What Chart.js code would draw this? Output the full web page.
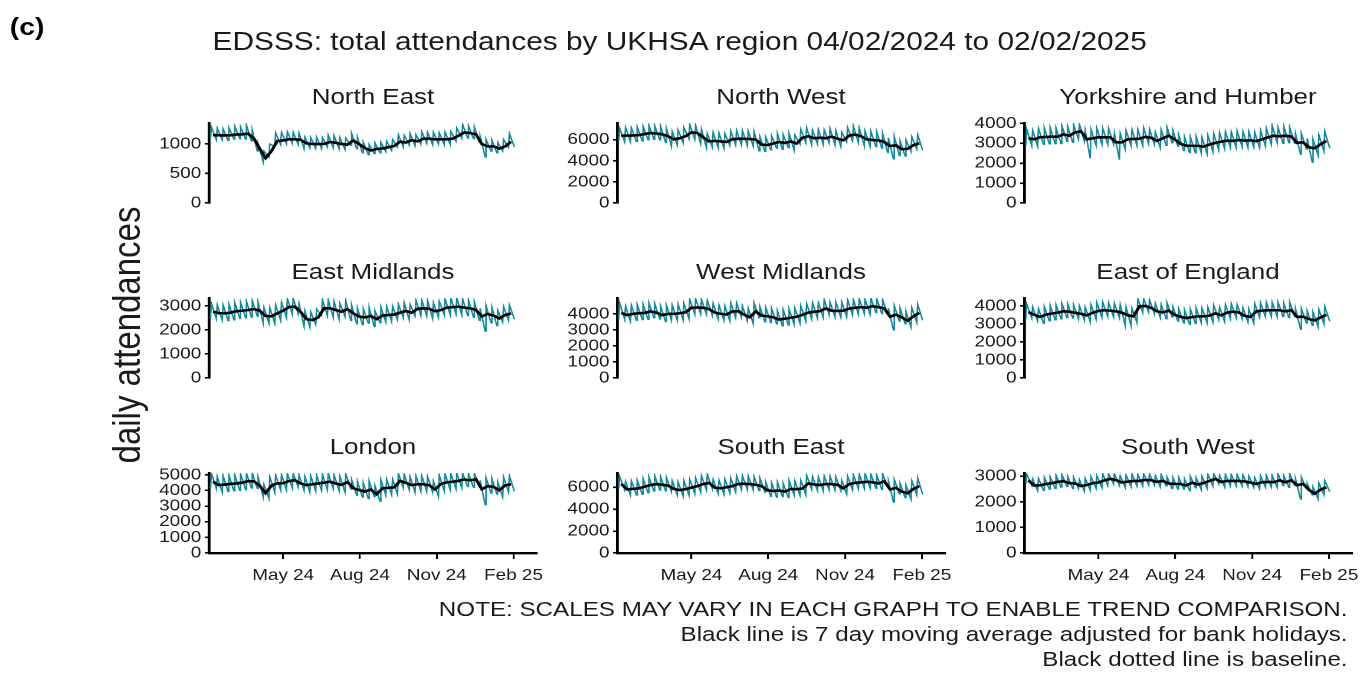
<!DOCTYPE html>
<html>
<head>
<meta charset="utf-8">
<title>EDSSS total attendances by UKHSA region</title>
<script src="https://cdn.jsdelivr.net/npm/chart.js@4.4.1/dist/chart.umd.min.js"></script>
<style>
  html, body { margin: 0; padding: 0; background: #fff; overflow: hidden; }
  #page {
    position: absolute; left: 0; top: 0; width: 1157px; height: 673px;
    transform: scaleX(1.18); transform-origin: 0 0;
    font-family: "Liberation Sans", Arial, sans-serif; color: #1a1a1a;
  }
  .txt { position: absolute; white-space: nowrap; line-height: 1; }
  .c { transform: translate(-50%, -50%); }
  canvas { position: absolute; }
</style>
</head>
<body>
<div id="page">
  <div class="txt c" style="left:23px; top:27px; font-size:24px; font-weight:bold; color:#000;">(c)</div>
  <div class="txt c" style="left:576px; top:42px; font-size:25.3px;">EDSSS: total attendances by UKHSA region 04/02/2024 to 02/02/2025</div>
  <div class="txt c" style="left:107px; top:335px; font-size:33px; transform: translate(-50%, -50%) rotate(-90deg);">daily attendances</div>
  <div class="txt" style="right:15px; top:599px; font-size:20.5px; text-align:right;">NOTE: SCALES MAY VARY IN EACH GRAPH TO ENABLE TREND COMPARISON.</div>
  <div class="txt" style="right:15px; top:624px; font-size:20.5px; text-align:right;">Black line is 7 day moving average adjusted for bank holidays.</div>
  <div class="txt" style="right:15px; top:649px; font-size:20.5px; text-align:right;">Black dotted line is baseline.</div>
</div>
<script>
// --- Data: days counted from Sun 04/02/2024 (day 0) to Sun 02/02/2025 (day 364) ---
const regionNames = ["North East", "North West", "Yorkshire and Humber",
                     "East Midlands", "West Midlands", "East of England",
                     "London", "South East", "South West"];
const xTickDays = [87, 179, 271, 363];
const xTickLabels = ["May 24", "Aug 24", "Nov 24", "Feb 25"];
const yTickValues = [
  [0, 500, 1000], [0, 2000, 4000, 6000], [0, 1000, 2000, 3000, 4000],
  [0, 1000, 2000, 3000], [0, 1000, 2000, 3000, 4000], [0, 1000, 2000, 3000, 4000],
  [0, 1000, 2000, 3000, 4000, 5000], [0, 2000, 4000, 6000], [0, 1000, 2000, 3000]
];
const yMaxValues = [1356, 7600, 4020, 3330, 4990, 4440, 5120, 7300, 3130];

// weekly 7 day average (black), weekly Monday peak and Sunday trough (teal)
const neAvg = [1150,1150,1145,1150,1160,1165,1175,1090,920,760,880,1050,1060,1080,1080,1070,1010,1000,1000,1000,1035,1020,1000,990,1060,1000,930,890,915,925,945,965,1040,1025,1065,1045,1090,1090,1080,1080,1080,1090,1140,1195,1185,1165,1000,960,960,920,960,1040];
const neHi = [1290,1270,1260,1280,1300,1290,1320,1230,1000,880,1000,1190,1200,1210,1200,1190,1120,1110,1120,1110,1150,1140,1110,1100,1180,1110,1030,990,1020,1030,1050,1080,1160,1150,1180,1160,1210,1200,1200,1190,1200,1210,1270,1330,1310,1290,1130,1080,1070,1030,1080,1180];
const neLo = [1100,1070,1070,1060,1080,1090,1080,1050,880,700,780,960,990,1000,1010,990,920,930,920,920,950,940,920,910,980,920,850,820,840,850,870,890,950,950,980,970,1000,1010,990,1000,990,1000,1050,1100,1100,1090,1030,780,880,850,880,940,950];

const nwAvg = [6400,6400,6420,6450,6550,6650,6600,6520,6340,6050,6150,6350,6700,6650,6250,5850,5900,5850,5800,6050,6100,6100,6080,6020,5550,5500,5650,5800,5700,5850,5650,6200,6340,6150,6200,6150,6300,6100,5960,6400,6500,6350,6050,5980,5950,5800,5400,5500,5100,5150,5500,5680];
const nwHi = [7100,7200,7150,7250,7300,7400,7350,7300,7100,6800,6950,7150,7450,7400,7000,6600,6700,6650,6600,6850,6900,6900,6850,6800,6300,6250,6400,6600,6500,6600,6450,7000,7150,6950,7000,6950,7100,6900,6750,7200,7300,7150,6850,6800,6750,6600,6200,6300,5900,6000,6300,6500];
const nwLo = [5900,5800,5800,5850,5900,6000,6050,6000,5750,5400,5500,5750,6100,6050,5650,5250,5300,5250,5200,5450,5500,5500,5450,5400,4950,4900,5050,5200,5100,5250,5050,5600,5750,5550,5600,5550,5700,5500,5350,5800,5900,5750,5450,5400,5350,5200,4800,4200,4500,4450,4900,5100,5000];

const yhAvg = [3250,3200,3300,3320,3330,3330,3450,3380,3550,3600,3200,3250,3300,3300,3300,3050,3050,3200,3220,3230,3320,3280,3120,3250,3380,3200,2980,2880,2870,2870,2830,2940,3020,3080,3130,3120,3170,3130,3150,3110,3200,3300,3380,3350,3380,3340,3020,3050,2800,2750,2950,3120];
const yhHi = [3700,3650,3750,3780,3800,3780,3900,3850,3950,3980,3650,3700,3750,3760,3750,3500,3500,3650,3680,3700,3780,3720,3580,3700,3820,3650,3430,3330,3320,3330,3290,3400,3480,3540,3590,3580,3630,3590,3600,3570,3660,3760,3900,3800,3850,3800,3480,3500,3250,3200,3420,3600];
const yhLo = [2900,2880,2850,2950,2970,2980,2990,3100,3050,3200,3100,2250,2900,2950,2950,2950,2170,2700,2870,2880,2880,2970,2930,2770,2900,3030,2850,2630,2530,2520,2520,2480,2590,2670,2730,2780,2770,2820,2780,2800,2760,2850,2950,3030,3000,3030,2990,2450,2700,2050,2400,2600,2750];

const emAvg = [2760,2700,2690,2720,2780,2800,2830,2870,2800,2580,2570,2690,2800,2950,2970,2750,2450,2410,2520,2900,2900,2830,2760,2870,2690,2560,2520,2580,2450,2600,2620,2640,2720,2790,2720,2880,2900,2880,2780,2830,2930,2950,2970,2930,2900,2830,2560,2670,2600,2480,2620,2690];
const emHi = [3100,3050,3040,3080,3140,3150,3190,3220,3150,2930,2920,3040,3160,3300,3320,3100,2800,2760,2880,3260,3250,3180,3110,3230,3040,2910,2870,2930,2800,2950,2980,2990,3080,3140,3070,3240,3250,3230,3130,3190,3290,3310,3320,3290,3250,3180,2900,3020,2950,2830,2980,3050];
const emLo = [2500,2460,2400,2390,2420,2480,2500,2530,2570,2300,2280,2270,2390,2500,2650,2670,2150,2110,2220,2600,2600,2530,2460,2570,2390,2260,2220,2280,2150,2300,2320,2340,2420,2490,2420,2580,2600,2580,2480,2530,2630,2650,2670,2630,2600,2530,2400,1950,2300,2180,2320,2390,2450];

const wmAvg = [4060,3920,4000,4040,4060,4150,4080,3920,4000,4000,4040,4100,4380,4400,4380,4300,4080,4000,3960,4150,4170,3950,3790,4150,3900,3850,3780,3650,3700,3760,3820,3940,4080,4130,4170,4340,4200,4180,4200,4330,4380,4420,4380,4480,4420,4340,3820,3950,3780,3580,3850,4060];
const wmHi = [4700,4500,4550,4600,4600,4700,4650,4500,4550,4550,4600,4650,4900,4950,4900,4850,4650,4550,4500,4700,4700,4500,4350,4700,4450,4400,4350,4200,4250,4300,4350,4500,4650,4700,4700,4900,4750,4750,4750,4900,4900,4950,4900,4980,4950,4900,4350,4500,4350,4150,4400,4600];
const wmLo = [3700,3650,3520,3600,3640,3660,3750,3680,3520,3600,3600,3640,3700,3980,4000,3980,3900,3680,3600,3560,3750,3770,3550,3390,3750,3500,3450,3380,3250,3300,3360,3420,3540,3680,3730,3770,3940,3800,3780,3800,3930,3980,4020,3980,4080,4020,3940,3000,3550,3380,3180,3450,3600];

const eeAvg = [3660,3510,3390,3520,3580,3630,3700,3680,3620,3560,3480,3620,3720,3760,3740,3700,3620,3480,3420,3980,4000,3900,3700,3640,3740,3510,3400,3330,3380,3420,3420,3460,3590,3480,3630,3680,3640,3450,3390,3700,3740,3760,3760,3760,3700,3760,3390,3400,3270,3200,3360,3510];
const eeHi = [4100,3950,3850,3970,4030,4080,4150,4130,4070,4010,3930,4070,4170,4210,4190,4150,4070,3930,3870,4400,4420,4350,4150,4090,4190,3960,3850,3780,3830,3870,3870,3910,4040,3930,4080,4130,4090,3900,3840,4150,4190,4210,4210,4210,4150,4210,3840,3850,3720,3650,3810,3960];
const eeLo = [3300,3310,3160,3040,3170,3230,3280,3350,3330,3270,3210,3130,3270,3370,3410,3390,3350,2900,2890,3070,3630,3650,3550,3350,3290,3390,3160,3050,2980,3030,3070,3070,3110,3240,3130,3280,3330,3290,3100,3040,3350,3390,3410,3410,3410,3350,3410,2700,3050,2920,2850,3010,3150];

const lonAvg = [4560,4340,4380,4420,4450,4500,4600,4580,4300,3830,4320,4460,4470,4600,4660,4450,4340,4400,4450,4500,4560,4450,4360,4540,4150,4030,3930,4060,3760,4140,4170,4200,4620,4490,4340,4400,4400,4340,4060,4420,4520,4560,4620,4710,4650,4720,4080,4280,4230,4020,4330,4400];
const lonHi = [5100,4900,4950,4980,5000,5050,5100,5100,4850,4380,4870,5000,5020,5100,5100,5000,4900,4950,5000,5050,5100,5000,4900,5080,4700,4580,4480,4600,4300,4700,4720,4750,5100,5050,4900,4950,4950,4900,4600,4980,5050,5080,5100,5100,5100,5100,4650,4830,4780,4570,4880,4950];
const lonLo = [4150,4110,3890,3930,3970,4000,4050,4150,4130,3600,3500,3870,4010,4020,4150,4210,4000,3890,3950,4000,4050,4110,4000,3910,4090,3700,3580,3480,3610,3310,3690,3720,3750,4170,4040,3890,3950,3950,3890,3610,3970,4070,4110,4170,4260,4200,4270,3100,3830,3780,3570,3880,3950];

const seAvg = [6300,5800,5850,5900,6050,6200,6290,6220,6150,5850,5740,5830,5960,6100,6290,6400,5960,5900,6000,6100,6300,6320,6290,6230,6100,5720,5650,5700,5600,5850,5820,5880,6350,6250,6200,6290,6290,6220,5900,6290,6400,6450,6500,6450,6350,6550,5800,5950,5600,5450,5850,6100];
const seHi = [7000,6550,6600,6650,6800,6950,7050,6970,6900,6600,6490,6580,6710,6850,7050,7200,6710,6650,6750,6850,7050,7070,7040,6980,6850,6470,6400,6450,6350,6600,6570,6630,7100,7000,6950,7040,7040,6970,6650,7040,7150,7200,7250,7200,7100,7250,6550,6700,6350,6200,6600,6850];
const seLo = [5900,5750,5250,5300,5350,5500,5650,5740,5670,5600,5300,5190,5280,5410,5550,5740,5850,5410,5350,5450,5550,5750,5770,5740,5680,5550,5170,5100,5150,5050,5300,5270,5330,5800,5700,5650,5740,5740,5670,5350,5740,5850,5900,5950,5900,5800,6000,4650,5400,5050,4900,5300,5350];

const swAvg = [2840,2640,2650,2700,2730,2780,2810,2730,2720,2620,2660,2730,2760,2840,2900,2850,2760,2790,2820,2820,2860,2850,2780,2820,2720,2700,2700,2640,2750,2680,2740,2820,2900,2780,2820,2820,2820,2800,2760,2700,2770,2780,2770,2840,2770,2840,2650,2710,2470,2320,2480,2570];
const swHi = [3080,2900,2920,2960,2990,3050,3080,3000,2980,2880,2920,2990,3020,3100,3110,3100,3020,3050,3080,3080,3110,3100,3030,3080,2980,2960,2960,2900,3000,2940,3000,3080,3110,3040,3080,3080,3080,3060,3020,2960,3030,3040,3030,3100,3030,3100,2900,2970,2720,2580,2740,2830];
const swLo = [2700,2640,2440,2450,2500,2530,2580,2610,2530,2520,2420,2460,2530,2560,2640,2700,2650,2560,2590,2620,2620,2660,2650,2580,2620,2520,2500,2500,2440,2550,2480,2540,2620,2700,2580,2620,2620,2620,2600,2560,2500,2570,2580,2570,2640,2570,2640,2110,2510,2270,2120,2280,2400];

const avgSeries = [neAvg, nwAvg, yhAvg, emAvg, wmAvg, eeAvg, lonAvg, seAvg, swAvg];
const hiSeries = [neHi, nwHi, yhHi, emHi, wmHi, eeHi, lonHi, seHi, swHi];
const loSeries = [neLo, nwLo, yhLo, emLo, wmLo, eeLo, lonLo, seLo, swLo];

// --- Layout (picture px; page is stretched by S horizontally) ---
const S = 1.18;
const COL_X = [209, 617, 1024];
const ROW_Y = [123, 298, 473];
const PLOT_W = 328 / S, PLOT_H = 80;
const TEAL = "#13879b";

Chart.defaults.font.family = '"Liberation Sans", Arial, sans-serif';
Chart.defaults.color = "#1a1a1a";

const page = document.getElementById("page");

function addTitle(text, cx, cy) {
    const d = document.createElement("div");
    d.className = "txt c";
    d.style.left = cx + "px";
    d.style.top = cy + "px";
    d.style.fontSize = "22px";
    d.textContent = text;
    page.appendChild(d);
}

function makePanel(i) {
    const row = Math.floor(i / 3), col = i % 3;
    const bottomRow = row === 2;
    // y tick labels need ~13px above/below the plot, keep padding larger than that
    const padL = 60, padR = 14, padT = 16, padB = bottomRow ? 40 : 16;
    const w = Math.round(padL + PLOT_W + padR), h = padT + PLOT_H + padB;
    const left = COL_X[col] / S - padL;

    addTitle(regionNames[i], COL_X[col] / S + PLOT_W / 2, ROW_Y[row] - 26);

    const cv = document.createElement("canvas");
    cv.width = w; cv.height = h;
    cv.style.width = w + "px"; cv.style.height = h + "px";
    cv.style.left = left + "px"; cv.style.top = (ROW_Y[row] - padT) + "px";
    page.appendChild(cv);

    // teal: Sunday trough then Monday peak each week
    const daily = [];
    loSeries[i].forEach((v, wk) => {
        daily.push({ x: wk * 7, y: v });
        if (wk < hiSeries[i].length) daily.push({ x: wk * 7 + 1, y: hiSeries[i][wk] });
    });
    const avg = avgSeries[i].map((v, wk) => ({ x: wk * 7 + 3, y: v }));

    new Chart(cv, {
        type: "line",
        data: {
            datasets: [
                { data: avg, borderColor: "#000", borderWidth: 2.6, pointRadius: 0, tension: 0 },
                { data: daily, borderColor: TEAL, borderWidth: 1.3, pointRadius: 0, tension: 0 }
            ]
        },
        options: {
            responsive: false,
            animation: false,
            devicePixelRatio: 2,
            layout: { padding: { left: 0, right: padR, top: padT, bottom: bottomRow ? 0 : padB } },
            plugins: { legend: { display: false }, tooltip: { enabled: false } },
            scales: {
                x: {
                    type: "linear", min: -2, max: 391,
                    display: bottomRow,
                    border: { display: true, color: "#000", width: 2.4 },
                    grid: { drawOnChartArea: false, drawTicks: true, tickLength: 6, color: "#000", lineWidth: 1.6 },
                    afterBuildTicks: s => { s.ticks = xTickDays.map(v => ({ value: v })); },
                    afterFit: s => { s.height = bottomRow ? 40 : 0; },
                    ticks: {
                        autoSkip: false, maxRotation: 0, padding: 7,
                        font: { size: 16 }, color: "#1a1a1a",
                        callback: (v, idx) => xTickLabels[idx]
                    }
                },
                y: {
                    min: 0, max: yMaxValues[i],
                    border: { display: true, color: "#000", width: 2.4 },
                    grid: { drawOnChartArea: false, drawTicks: true, tickLength: 3.5, color: "#000", lineWidth: 1.6 },
                    afterBuildTicks: s => { s.ticks = yTickValues[i].map(v => ({ value: v })); },
                    afterFit: s => { s.width = padL; },
                    ticks: {
                        autoSkip: false, padding: 3,
                        font: { size: 16 }, color: "#1a1a1a",
                        callback: v => String(v)
                    }
                }
            }
        }
    });
}

for (let i = 0; i < regionNames.length; i++) makePanel(i);
</script>
</body>
</html>
